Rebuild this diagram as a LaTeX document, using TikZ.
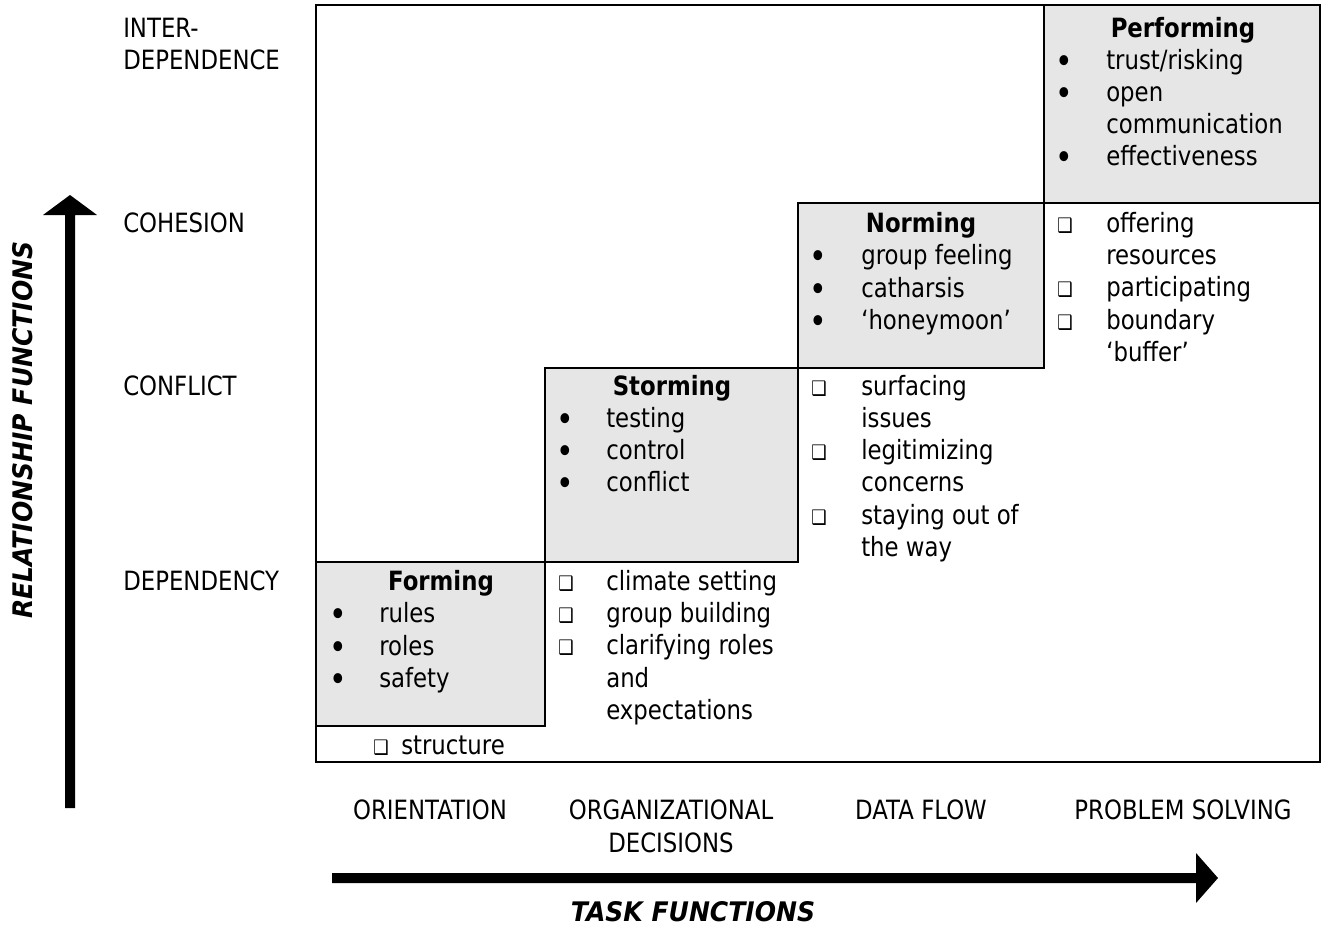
\documentclass[tikz,border=0pt]{standalone}
\usepackage{fontspec}
\setmainfont{DejaVu Sans}[FakeStretch=0.86]
\newfontfamily\axisfont{DejaVu Sans}[FakeStretch=0.93]
\definecolor{boxgray}{HTML}{E6E6E6}
\newcommand{\bitem}[5]{\node[bul] (#1b) at (#2,#4) {•};\node[tx] (#1) at (#3,#4) {#5};}
\newcommand{\sitem}[5]{\node[sqb] (#1b) at (#2,#4) {❑};\node[tx] (#1) at (#3,#4) {#5};}
\newcommand{\citem}[4]{\node[tx] (#1) at (#2,#3) {#4};}
\begin{document}
\begin{tikzpicture}[x=0.75pt,y=-0.75pt,
  tx/.style={anchor=base west,inner sep=0pt,font=\fontsize{19.9}{24}\selectfont},
  hd/.style={anchor=base,inner sep=0pt,font=\fontsize{19.9}{24}\selectfont\bfseries},
  lab/.style={anchor=base,inner sep=0pt,font=\fontsize{19.9}{24}\selectfont},
  axis/.style={inner sep=0pt,font=\axisfont\fontsize{20.2}{24}\selectfont\bfseries\itshape},
  bul/.style={anchor=base,inner sep=0pt,yshift=-3pt,font=\fontsize{26}{26}\selectfont},
  sqb/.style={anchor=base,inner sep=0pt,font=\fontsize{15}{15}\selectfont},
  stagebox/.style={fill=boxgray,draw=black,line width=1.6pt},
  frame/.style={draw=black,line width=1.5pt},
  arrowfill/.style={fill=black}]
\useasboundingbox (0,0) rectangle (1322,951);
% frame
\draw[frame] (316,5) rectangle (1320,762);
% stage boxes
\draw[stagebox] (316,562) rectangle (545,726);
\draw[stagebox] (545,368) rectangle (798,562);
\draw[stagebox] (798,203) rectangle (1044,368);
\draw[stagebox] (1044,5) rectangle (1320,203);
% row labels
\node[tx] (r1a) at (123,37) {INTER-};
\node[tx] (r1b) at (123,69) {DEPENDENCE};
\node[tx] (r2) at (123,232) {COHESION};
\node[tx] (r3) at (123,395) {CONFLICT};
\node[tx] (r4) at (123,590) {DEPENDENCY};
% Forming
\node[hd] (form) at (441,590) {Forming};
\bitem{f1}{338}{379}{622}{rules}
\bitem{f2}{338}{379}{655}{roles}
\bitem{f3}{338}{379}{687}{safety}
\sitem{s0}{381}{401}{754}{structure}
% Storming
\node[hd] (storm) at (672,395) {Storming};
\bitem{st1}{565}{606}{427}{testing}
\bitem{st2}{565}{606}{459}{control}
\bitem{st3}{565}{606}{491}{conflict}
\sitem{c21}{566}{606}{590}{climate setting}
\sitem{c22}{566}{606}{622}{group building}
\sitem{c23}{566}{606}{654}{clarifying roles}
\citem{c24}{606}{687}{and}
\citem{c25}{606}{719}{expectations}
% Norming
\node[hd] (norm) at (921,232) {Norming};
\bitem{n1}{818}{861}{264}{group feeling}
\bitem{n2}{818}{861}{297}{catharsis}
\bitem{n3}{818}{861}{329}{‘honeymoon’}
\sitem{c31}{819}{861}{395}{surfacing}
\citem{c32}{861}{427}{issues}
\sitem{c33}{819}{861}{459}{legitimizing}
\citem{c34}{861}{491}{concerns}
\sitem{c35}{819}{861}{524}{staying out of}
\citem{c36}{861}{556}{the way}
% Performing
\node[hd] (perf) at (1183,37) {Performing};
\bitem{p1}{1064}{1106}{69}{trust/risking}
\bitem{p2}{1064}{1106}{101}{open}
\citem{p3}{1106}{133}{communication}
\bitem{p4}{1064}{1106}{165}{effectiveness}
\sitem{c41}{1065}{1106}{232}{offering}
\citem{c42}{1106}{264}{resources}
\sitem{c43}{1065}{1106}{296}{participating}
\sitem{c44}{1065}{1106}{329}{boundary}
\citem{c45}{1106}{361}{‘buffer’}
% column labels
\node[lab] (k1) at (430,819) {ORIENTATION};
\node[lab] (k2a) at (671,819) {ORGANIZATIONAL};
\node[lab] (k2b) at (671,852) {DECISIONS};
\node[lab] (k3) at (921,819) {DATA FLOW};
\node[lab] (k4) at (1183,819) {PROBLEM SOLVING};
% axes
\fill[arrowfill] (65,808) -- (65,215) -- (43,215) -- (70,195) -- (97,215) -- (75,215) -- (75,808) -- cycle;
\fill[arrowfill] (332,873) -- (1196,873) -- (1196,853) -- (1218,878) -- (1196,903) -- (1196,883) -- (332,883) -- cycle;
\node[axis,rotate=90] (yl) at (23,430) {RELATIONSHIP FUNCTIONS};
\node[axis] (xl) at (693,912) {TASK FUNCTIONS};
\end{tikzpicture}
\end{document}
